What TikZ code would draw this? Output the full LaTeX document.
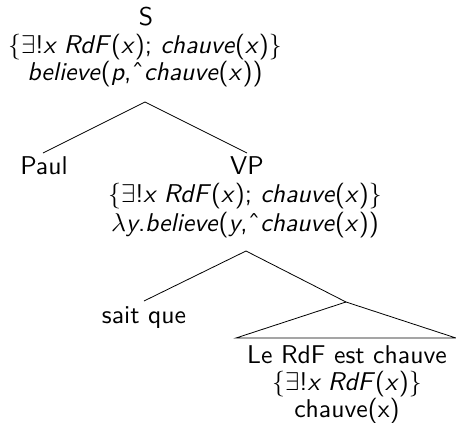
\documentclass[tikz,border=0pt]{standalone}
\newcommand{\hatmark}{\symbol{"02C6}}
\begin{document}
\begin{tikzpicture}[x=1pt,y=-1pt,
  lbl/.style={font=\normalsize\sffamily, inner sep=0pt, anchor=base, scale=2.57},
  edge/.style={draw=black, line width=0.8pt}]
\useasboundingbox (0,0) rectangle (456,423);
% S
\node[lbl] (S) at (146,26) {S};
\node[lbl] (S2) at (145,53) {$\{\exists$!\textit{x RdF}(\textit{x}); \textit{chauve}(\textit{x})$\}$};
\node[lbl] (S3) at (145,81) {\textit{believe}(\textit{p},\hatmark\textit{chauve}(\textit{x}))};
\coordinate (a1) at (145,102);
\node[lbl] (Paul) at (44,174) {Paul};
\node[lbl] (VP) at (247,174) {VP};
\coordinate (p1) at (43,153);
\coordinate (v1) at (247,153);
\draw[edge] (a1) -- (p1);
\draw[edge] (a1) -- (v1);
\node[lbl] (VP2) at (245,202) {$\{\exists$!\textit{x RdF}(\textit{x}); \textit{chauve}(\textit{x})$\}$};
\node[lbl] (VP3) at (245,231) {$\lambda$\textit{y}.\textit{believe}(\textit{y},\hatmark\textit{chauve}(\textit{x}))};
\coordinate (a2) at (246,251);
\coordinate (s1) at (144,301);
\coordinate (a3) at (346,302);
\draw[edge] (a2) -- (s1);
\draw[edge] (a2) -- (a3);
\node[lbl] (sq) at (144,323) {sait que};
\coordinate (bl) at (236,338);
\coordinate (br) at (456,338);
\draw[edge] (a3) -- (bl) -- (br) -- cycle;
\node[lbl, text depth=0pt] (L1) at (347,363) {Le RdF est chauve};
\node[lbl, text height=6.5pt] (L2) at (347,390) {$\{\exists$!\textit{x RdF}(\textit{x})$\}$};
\node[lbl] (L3) at (347,417) {chauve(x)};
\end{tikzpicture}
\end{document}
